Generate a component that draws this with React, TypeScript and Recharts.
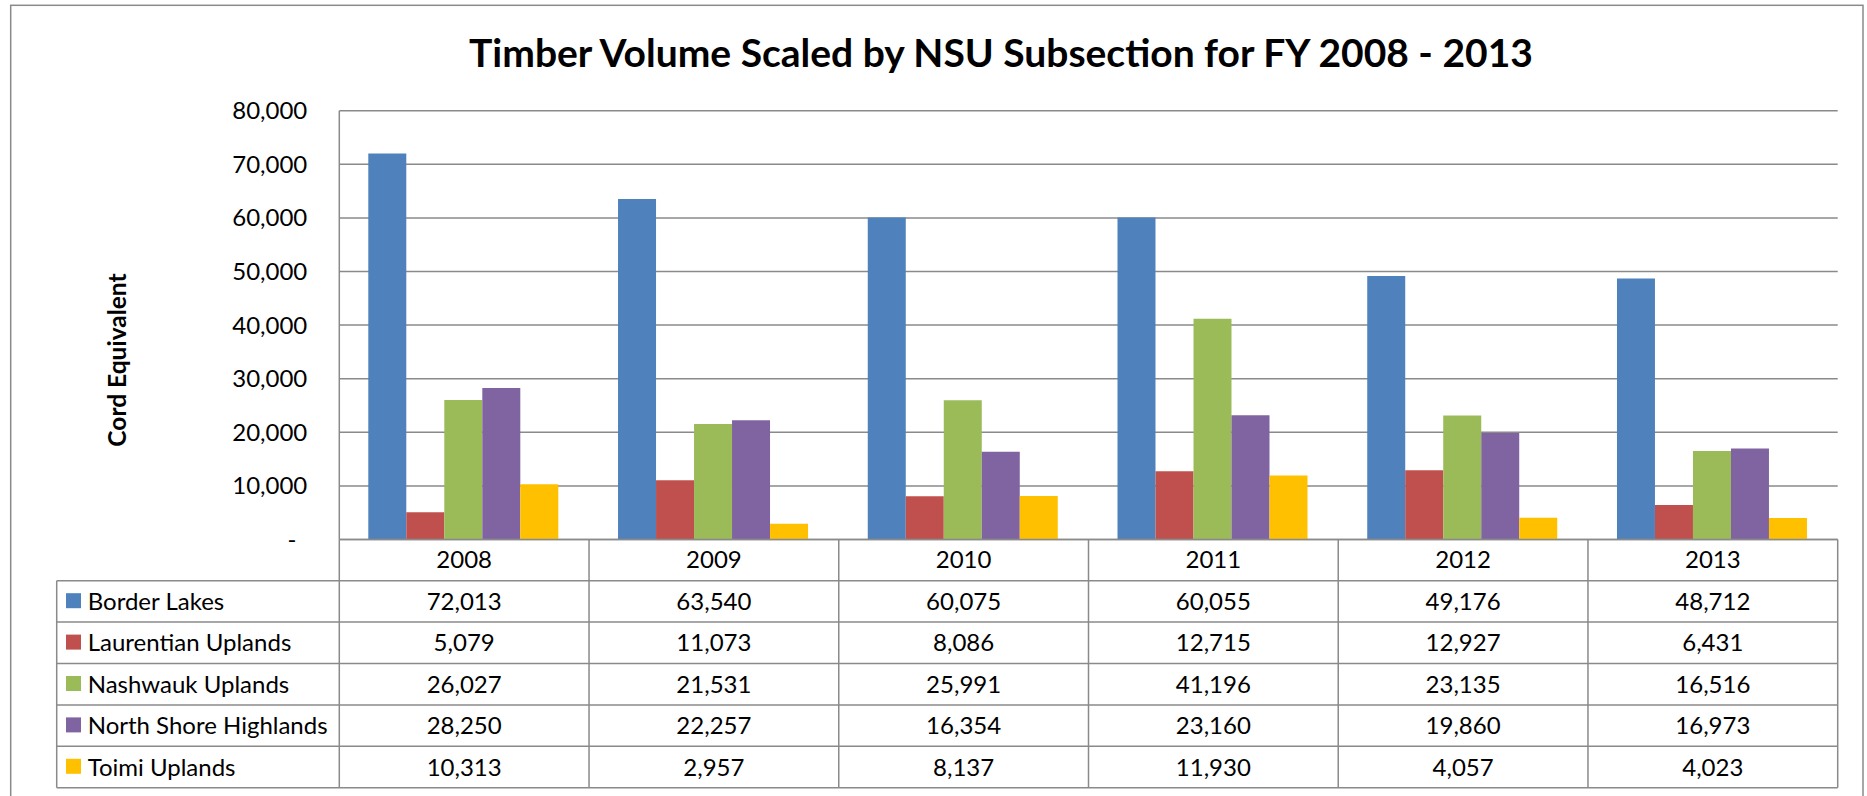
import React from 'react';
import { BarChart, Bar, XAxis, YAxis, CartesianGrid } from 'recharts';

// ---- Data ----
const years = ['2008', '2009', '2010', '2011', '2012', '2013'];
const seriesNames = ['Border Lakes', 'Laurentian Uplands', 'Nashwauk Uplands', 'North Shore Highlands', 'Toimi Uplands'];
const seriesColors = ['#4F81BD', '#C0504D', '#9BBB59', '#8064A2', '#FFC000'];
const borderLakes = [72013, 63540, 60075, 60055, 49176, 48712];
const laurentianUplands = [5079, 11073, 8086, 12715, 12927, 6431];
const nashwaukUplands = [26027, 21531, 25991, 41196, 23135, 16516];
const northShoreHighlands = [28250, 22257, 16354, 23160, 19860, 16973];
const toimiUplands = [10313, 2957, 8137, 11930, 4057, 4023];
const yTicks = [0, 10000, 20000, 30000, 40000, 50000, 60000, 70000, 80000];
const titleText = 'Timber Volume Scaled by NSU Subsection for FY 2008 - 2013';
const yAxisTitle = 'Cord Equivalent';

const seriesValues = [borderLakes, laurentianUplands, nashwaukUplands, northShoreHighlands, toimiUplands];
const seriesKeys = seriesNames.map((_, i) => `s${i}`);
const data = years.map((year, i) => {
  const row: Record<string, string | number> = { year };
  seriesValues.forEach((vals, s) => {
    row[seriesKeys[s]] = vals[i];
  });
  return row;
});

// ---- Layout ----
const W = 1867;
const H = 796;
const PLOT_L = 339.3;
const PLOT_R = 1837.7;
const PLOT_T = 110.7;
const PLOT_B = 539.5;
const YAXIS_W = 80;
const XAXIS_H = 30;
const TBL_L = 56.7;
const ROW_TOP = 580.7;
const ROW_H = 41.4;
const COL_W = (PLOT_R - PLOT_L) / years.length;
const LINE = '#8a8a8a';
const FONT = 'Lato, "Open Sans", sans-serif';
const FS = 24;

const fmt = (v: number) => v.toLocaleString('en-US');

const YTick = (props: any) => {
  const { x, y, payload } = props;
  const isZero = payload.value === 0;
  return (
    <text x={isZero ? x - 11 : x} y={y} dy="0.355em" textAnchor="end" fill="#000" fontSize={FS} fontFamily={FONT}>
      {isZero ? '-' : fmt(payload.value)}
    </text>
  );
};

const Overlay = () => {
  const tableBottom = ROW_TOP + ROW_H * seriesNames.length;
  const hLines = [];
  for (let i = 0; i <= seriesNames.length; i++) {
    const y = ROW_TOP + i * ROW_H;
    hLines.push(<line key={`h${i}`} x1={TBL_L} x2={PLOT_R} y1={y} y2={y} stroke={LINE} strokeWidth={1.5} />);
  }
  const vLines = [<line key="vl" x1={TBL_L} x2={TBL_L} y1={ROW_TOP} y2={tableBottom} stroke={LINE} strokeWidth={1.5} />];
  for (let j = 0; j <= years.length; j++) {
    const x = PLOT_L + j * COL_W;
    vLines.push(<line key={`v${j}`} x1={x} x2={x} y1={PLOT_B} y2={tableBottom} stroke={LINE} strokeWidth={1.5} />);
  }
  return (
    <svg width={W} height={H} style={{ position: 'absolute', left: 0, top: 0, pointerEvents: 'none' }}>
      <rect x={10.7} y={5.3} width={1852.3} height={900} fill="none" stroke={LINE} strokeWidth={1.5} />
      <text x={1001} y={67.3} textAnchor="middle" fontSize={39} fontWeight="bold" fontFamily={FONT} fill="#000">
        {titleText}
      </text>
      <text
        x={125.5}
        y={360}
        textAnchor="middle"
        fontSize={24.5}
        fontWeight="bold"
        fontFamily={FONT}
        fill="#000"
        transform="rotate(-90 125.5 360)"
      >
        {yAxisTitle}
      </text>
      {hLines}
      {vLines}
      {seriesNames.map((name, s) => {
        const cy = ROW_TOP + s * ROW_H + ROW_H / 2;
        return (
          <g key={name}>
            <rect x={66} y={cy - 8.2} width={15} height={15} fill={seriesColors[s]} />
            <text x={87.7} y={cy} dy="0.36em" fontSize={FS} fontFamily={FONT} fill="#000">
              {name}
            </text>
            {seriesValues[s].map((v, i) => (
              <text
                key={i}
                x={PLOT_L + (i + 0.5) * COL_W}
                y={cy}
                dy="0.36em"
                textAnchor="middle"
                fontSize={FS}
                fontFamily={FONT}
                fill="#000"
              >
                {fmt(v)}
              </text>
            ))}
          </g>
        );
      })}
    </svg>
  );
};

export default function App() {
  return (
    <div style={{ position: 'absolute', left: 0, top: 0, width: W, height: H, background: '#fff', overflow: 'hidden' }}>
      <BarChart
        width={W}
        height={H}
        data={data}
        margin={{ top: PLOT_T, right: W - PLOT_R, bottom: H - PLOT_B - XAXIS_H, left: PLOT_L - YAXIS_W }}
        barCategoryGap={29}
        barGap={0}
      >
        <CartesianGrid vertical={false} stroke={LINE} strokeWidth={1.5} />
        <XAxis
          dataKey="year"
          height={XAXIS_H}
          interval={0}
          tickLine={false}
          tickSize={0}
          tickMargin={11}
          axisLine={{ stroke: LINE, strokeWidth: 1.5 }}
          tick={{ fill: '#000', fontSize: FS, fontFamily: FONT }}
        />
        <YAxis
          width={YAXIS_W}
          domain={[0, 80000]}
          ticks={yTicks}
          interval={0}
          tickLine={false}
          tickSize={0}
          tickMargin={32}
          axisLine={{ stroke: LINE, strokeWidth: 1.5 }}
          tick={<YTick />}
        />
        {seriesKeys.map((k, s) => (
          <Bar key={k} dataKey={k} name={seriesNames[s]} fill={seriesColors[s]} isAnimationActive={false} />
        ))}
      </BarChart>
      <Overlay />
    </div>
  );
}
